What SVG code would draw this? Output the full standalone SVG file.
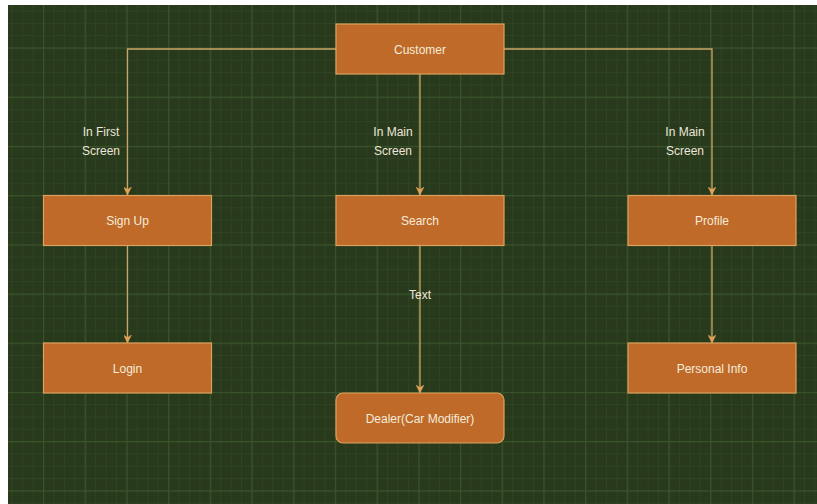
<svg xmlns="http://www.w3.org/2000/svg" width="817" height="504" viewBox="0 0 817 504">
<style>
.node rect{fill:#BF6A28;stroke:#DDA25E;stroke-width:1.2}
.node text{font-family:"Liberation Sans",Arial,sans-serif;font-size:12px;fill:#F4ECDC;text-anchor:middle}
.lbl{font-family:"Liberation Sans",Arial,sans-serif;font-size:12px;fill:#ECE6D8;text-anchor:middle}
.edge{fill:none;stroke:#C9A468;stroke-width:1.3}
</style>
<defs>
<pattern id="minor" patternUnits="userSpaceOnUse" x="1.3" y="-1.7" width="10.425" height="12.3">
<rect x="0" y="0" width="1" height="12.3" fill="#2F4323"/>
<rect x="0" y="0" width="10.425" height="1" fill="#2F4323"/>
</pattern>
<pattern id="major" patternUnits="userSpaceOnUse" x="1.3" y="-1.7" width="41.7" height="49.2">
<rect x="0" y="0" width="1.2" height="49.2" fill="#38532A"/>
<rect x="0" y="0" width="41.7" height="1.2" fill="#38532A"/>
</pattern>
<marker id="arr" viewBox="0 0 10 10" refX="10" refY="5" markerWidth="8" markerHeight="8" markerUnits="userSpaceOnUse" orient="auto">
<path d="M0,0 L10,5 L0,10 L3,5 Z" fill="#E3A257" stroke="#E3A257" stroke-width="0.5"/>
</marker>
</defs>
<rect x="0" y="0" width="817" height="504" fill="#FFFFFF"/>
<rect x="8" y="5" width="809" height="499" fill="#28391C"/>
<rect x="8" y="5" width="809" height="499" fill="url(#minor)"/>
<rect x="8" y="5" width="809" height="499" fill="url(#major)"/>
<g id="connectors">
<path class="edge" d="M336,49 H127.5 V195" marker-end="url(#arr)"/>
<path class="edge" d="M420,74 V195" marker-end="url(#arr)"/>
<path class="edge" d="M504,49 H712 V195" marker-end="url(#arr)"/>
<path class="edge" d="M127.5,246 V343" marker-end="url(#arr)"/>
<path class="edge" d="M420,246 V393" marker-end="url(#arr)"/>
<path class="edge" d="M712,246 V343" marker-end="url(#arr)"/>
<text class="lbl" x="101" y="135.5">In First</text>
<text class="lbl" x="101" y="154.5">Screen</text>
<text class="lbl" x="393" y="135.5">In Main</text>
<text class="lbl" x="393" y="154.5">Screen</text>
<text class="lbl" x="685" y="135.5">In Main</text>
<text class="lbl" x="685" y="154.5">Screen</text>
<text class="lbl" x="420" y="298.5">Text</text>
</g>
<g id="customer" class="node"><rect x="336" y="24" width="168" height="50"/><text x="420" y="53.5">Customer</text></g>
<g id="signup" class="node"><rect x="43.5" y="195.5" width="168" height="50"/><text x="127.5" y="225">Sign Up</text></g>
<g id="search" class="node"><rect x="336" y="195.5" width="168" height="50"/><text x="420" y="225">Search</text></g>
<g id="profile" class="node"><rect x="628" y="195.5" width="168" height="50"/><text x="712" y="225">Profile</text></g>
<g id="login" class="node"><rect x="43.5" y="343" width="168" height="50"/><text x="127.5" y="372.5">Login</text></g>
<g id="personalinfo" class="node"><rect x="628" y="343" width="168" height="50"/><text x="712" y="372.5">Personal Info</text></g>
<g id="dealer" class="node"><rect x="336" y="393" width="168" height="50" rx="7" ry="7"/><text x="420" y="422.5">Dealer(Car Modifier)</text></g>
</svg>
